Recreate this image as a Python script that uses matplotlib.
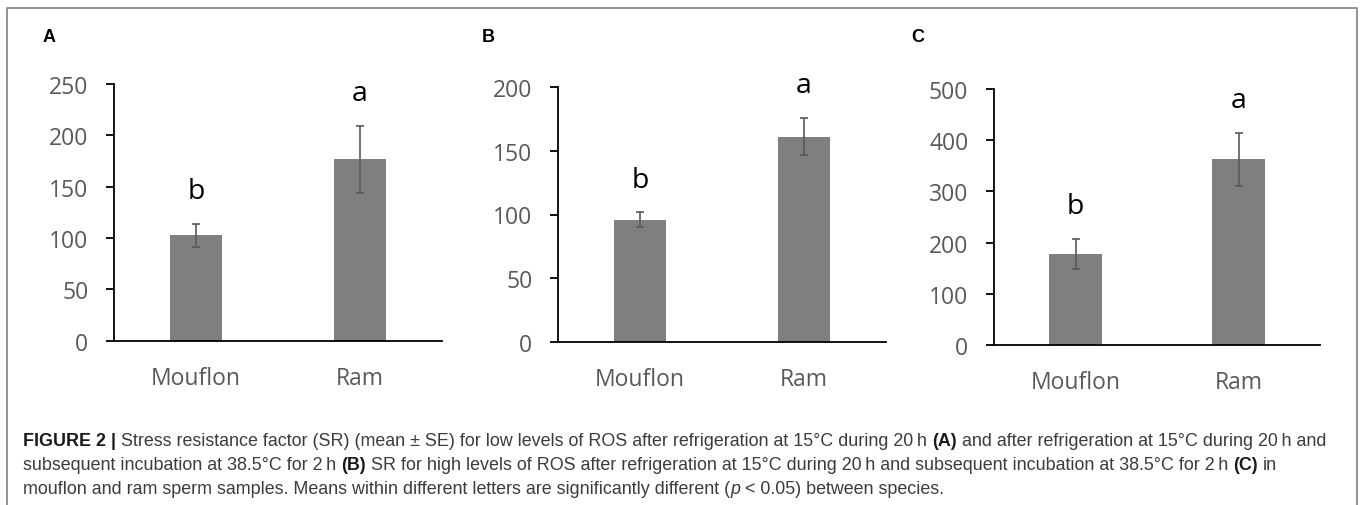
import matplotlib
matplotlib.use("Agg")
import matplotlib.pyplot as plt
from matplotlib.lines import Line2D

W, H = 1360, 506

categories = ['Mouflon', 'Ram']
letters = ['b', 'a']

sr_a = [102.5, 176.5]
se_a = [11, 33]
sr_b = [95.8, 161.0]
se_b = [5.8, 14.4]
sr_c = [178, 363]
se_c = [30, 52]

ticks_a = [0, 50, 100, 150, 200, 250]
ticks_b = [0, 50, 100, 150, 200]
ticks_c = [0, 100, 200, 300, 400, 500]

panel_names = ['A', 'B', 'C']

# axes boxes in pixels: left, right, y of 0, y of top tick
boxes = [(114, 442, 341.7, 85), (558, 886, 343.3, 87.7), (994, 1320, 346.2, 90)]
label_x = [43, 482, 911]

caption = [
    [("FIGURE 2 |", 'bold', 'normal', ' '),
     ("Stress resistance factor (SR) (mean \u00b1 SE) for low levels of ROS after refrigeration at 15\u00b0C during 20\u2009h", 'normal', 'normal', ' '),
     ("(A)", 'bold', 'normal', ' '),
     ("and after refrigeration at 15\u00b0C during 20\u2009h and", 'normal', 'normal', '')],
    [("subsequent incubation at 38.5\u00b0C for 2\u2009h", 'normal', 'normal', ' '),
     ("(B)", 'bold', 'normal', ' '),
     ("SR for high levels of ROS after refrigeration at 15\u00b0C during 20\u2009h and subsequent incubation at 38.5\u00b0C for 2\u2009h", 'normal', 'normal', ' '),
     ("(C)", 'bold', 'normal', ' '),
     ("in", 'normal', 'normal', '')],
    [("mouflon and ram sperm samples. Means within different letters are significantly different (", 'normal', 'normal', ''),
     ("p", 'normal', 'italic', ' '),
     ("< 0.05) between species.", 'normal', 'normal', '')],
]

fig = plt.figure(figsize=(W / 100, H / 100), dpi=100)
fig.patch.set_facecolor('white')

chart_font = 'Open Sans'
data = [(sr_a, se_a, ticks_a), (sr_b, se_b, ticks_b), (sr_c, se_c, ticks_c)]

for i, (vals, errs, ticks) in enumerate(data):
    l, r, y0, yt = boxes[i]
    ax = fig.add_axes([l / W, 1 - y0 / H, (r - l) / W, (y0 - yt) / H])
    x = list(range(len(categories)))
    ax.bar(x, vals, width=0.32, color='#7f7f7f', zorder=2)
    ax.errorbar(x, vals, yerr=errs, fmt='none', ecolor='#595959',
                elinewidth=1.2, capsize=3, capthick=1.2, zorder=3)
    for xi, v, e, t in zip(x, vals, errs, letters):
        ax.annotate(t, (xi, v + e), xytext=(0, 18.5), textcoords='offset points',
                    ha='center', va='baseline', fontsize=20.5,
                    family=chart_font, color='black')
    ax.set_xlim(-0.5, 1.5)
    ax.set_ylim(ticks[0], ticks[-1])
    ax.set_yticks(ticks)
    ax.set_xticks(x)
    ax.set_xticklabels(categories)
    for s in ['top', 'right']:
        ax.spines[s].set_visible(False)
    for s in ['left', 'bottom']:
        ax.spines[s].set_color('black')
        ax.spines[s].set_linewidth(1.3)
    ax.spines['bottom'].set_zorder(4)
    ax.tick_params(axis='y', direction='out', length=5.5, width=1.3,
                   color='black', pad=13, labelsize=16.5, labelcolor='#595959')
    ax.tick_params(axis='x', length=0, pad=18, labelsize=16.5, labelcolor='#595959')
    for lab in ax.get_xticklabels() + ax.get_yticklabels():
        lab.set_family(chart_font)
    ax.patch.set_alpha(0)
    ax.set_clip_on(False)

    fig.text(label_x[i] / W, 1 - 38 / H, panel_names[i], fontsize=13,
             fontweight='bold', family='Liberation Sans', ha='left', va='center')

# outer box, open at the bottom
box_c = '#8a8a8a'
fig.add_artist(Line2D([7 / W, 7 / W, 1357 / W, 1357 / W], [-0.05, 1 - 9 / H, 1 - 9 / H, -0.05],
                      transform=fig.transFigure, color=box_c, lw=1.3))

# caption, pieces placed one after another
renderer = fig.canvas.get_renderer()
cap_font = 'Liberation Sans'


def width_of(txt, size, weight='normal', style='normal'):
    t = fig.text(0, 0, txt, fontsize=size, fontweight=weight, fontstyle=style, family=cap_font)
    w = t.get_window_extent(renderer).width
    t.remove()
    return w


def line_width(parts, size):
    sp = width_of('x x', size) - width_of('xx', size)
    total = 0
    for txt, wt, st, gap in parts:
        total += width_of(txt, size, wt, st)
        if gap:
            total += sp
    return total


target = 1328 - 23
size = 12 * target / line_width(caption[0], 12)

sp = width_of('x x', size) - width_of('xx', size)
baselines = [446, 470, 494]
for parts, yb in zip(caption, baselines):
    xpos = 23
    for txt, wt, st, gap in parts:
        col = '#1a1a1a' if wt == 'bold' else '#3c3c3c'
        t = fig.text(xpos / W, 1 - yb / H, txt, fontsize=size, fontweight=wt,
                     fontstyle=st, family=cap_font, color=col, ha='left', va='baseline')
        xpos += t.get_window_extent(renderer).width
        if gap:
            xpos += sp

fig.savefig('out.png', dpi=100, facecolor='white')
